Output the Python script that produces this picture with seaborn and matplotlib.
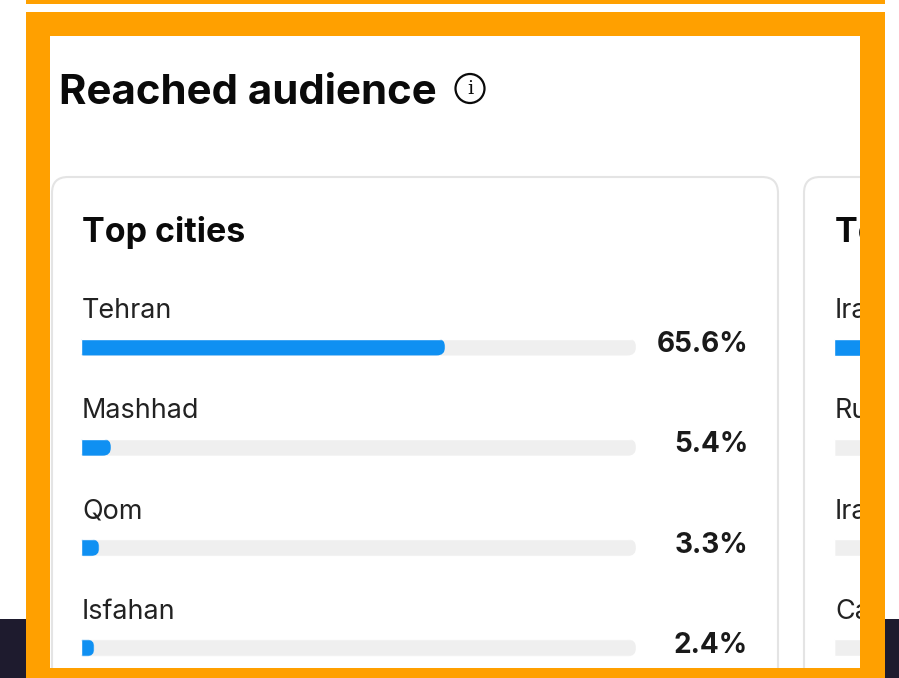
import matplotlib
matplotlib.use("Agg")
import matplotlib.pyplot as plt
import seaborn as sns
from matplotlib.patches import Rectangle, FancyBboxPatch, Circle
from matplotlib.path import Path

title = "Reached audience"
card_title = "Top cities"
card2_title = "Top countries"
cities = ["Tehran", "Mashhad", "Qom", "Isfahan"]
city_share = [65.6, 5.4, 3.3, 2.4]
countries = ["Iran", "Russia", "Iraq", "Canada"]
country_share = [90.0, 0.0, 0.0, 0.0]
track_full = [100, 100, 100, 100]

ORANGE = "#ffa000"
BLUE = "#0f90f2"
TRACK = "#efefef"
DARK = "#1e1b2e"
INK = "#0a0a0a"
W, H = 899, 678

sns.set_theme(style="white")
plt.rcParams["font.family"] = ["Inter", "DejaVu Sans"]
px = 0.72  # px to pt at dpi 100

fig = plt.figure(figsize=(W / 100, H / 100), dpi=100, facecolor="white")


def axes_px(x0, y0, x1, y1, z):
    a = fig.add_axes([x0 / W, 1 - y1 / H, (x1 - x0) / W, (y1 - y0) / H], zorder=z)
    a.patch.set_alpha(0)
    a.set_axis_off()
    return a


# page background and cards
bg = axes_px(0, 0, W, H, 0)
bg.set_xlim(0, W)
bg.set_ylim(H, 0)
bg.add_patch(Rectangle((0, 619), W, 59, color=DARK, lw=0))
bg.add_patch(Rectangle((26, 12), 859, 666, color="white", lw=0))
clip = Rectangle((50, 36), 810, 632, transform=bg.transData)
for cx0, cx1 in [(52, 778), (804, 1500)]:
    card = FancyBboxPatch((cx0, 177), cx1 - cx0, 620,
                          boxstyle="round,pad=0,rounding_size=16",
                          fc="white", ec="#e4e4e4", lw=1.5)
    bg.add_patch(card)
    card.set_clip_path(clip)

bg.text(59, 103.5, title, fontsize=41.9 * px, fontweight="bold", color=INK, va="baseline")
bg.add_patch(Circle((470, 88.5), 14.5, fc="white", ec=INK, lw=1.6))
bg.text(470, 89, "i", family="DejaVu Serif", fontsize=19 * px,
        color=INK, ha="center", va="center")
bg.text(82.5, 242, card_title, fontsize=34 * px, fontweight="bold", color=INK, va="baseline")
t = bg.text(835, 242, card2_title, fontsize=34 * px, fontweight="bold", color=INK, va="baseline")
t.set_clip_on(True)
t.set_clip_path(clip)

label_base = [318, 418, 519, 619]
value_base = [352, 452.5, 553, 653]
for name, b in zip(cities, label_base):
    bg.text(82, b, name, fontsize=27 * px, color="#222222", va="baseline")
for v, b in zip(city_share, value_base):
    bg.text(748, b, f"{v}%", fontsize=28 * px, fontweight="bold", color="#1a1a1a",
            ha="right", va="baseline")
for name, b in zip(countries, label_base):
    t = bg.text(835, b, name, fontsize=27 * px, color="#222222", va="baseline")
    t.set_clip_on(True)
    t.set_clip_path(clip)


def rounded(bar, ax, left_r, right_r):
    """Clip a seaborn bar to a pill whose corner radii are given in pixels."""
    x0, y0 = bar.get_x(), bar.get_y()
    x1, y1 = x0 + bar.get_width(), y0 + bar.get_height()
    p0 = ax.transData.transform((x0, y0))
    p1 = ax.transData.transform((x1, y1))
    xa, xb = sorted((p0[0], p1[0]))
    ya, yb = sorted((p0[1], p1[1]))
    h = yb - ya
    rr = min(right_r, h / 2, (xb - xa) * 0.6)
    lr = min(left_r, (xb - xa) * 0.3)
    verts = [(xa + lr, ya), (xb - rr, ya), (xb, ya), (xb, ya + rr), (xb, yb - rr), (xb, yb),
             (xb - rr, yb), (xa + lr, yb), (xa, yb), (xa, yb - lr), (xa, ya + lr), (xa, ya),
             (xa + lr, ya), (xa + lr, ya)]
    codes = [Path.MOVETO, Path.LINETO, Path.CURVE3, Path.CURVE3, Path.LINETO, Path.CURVE3,
             Path.CURVE3, Path.LINETO, Path.CURVE3, Path.CURVE3, Path.LINETO, Path.CURVE3,
             Path.CURVE3, Path.CLOSEPOLY]
    bar.set_clip_path(Path(verts, codes), matplotlib.transforms.IdentityTransform())


ROW = 100.3
TOP = 347 - ROW / 2
BOTTOM = 668
bar_w = 17 / ROW
ylim = (-0.5 + (BOTTOM - TOP) / ROW, -0.5)
PX_PER_UNIT = 5.55

# left card bars
ax = axes_px(81, TOP, 636, BOTTOM, 1)
sns.barplot(x=track_full, y=cities, color=TRACK, saturation=1, width=bar_w, ax=ax)
n_track = len(ax.patches)
sns.barplot(x=city_share, y=cities, color=BLUE, saturation=1, width=bar_w, ax=ax)
ax.set_xlim(0, 100)
ax.set_ylim(*ylim)
ax.set_axis_off()
for i, b in enumerate(ax.patches):
    rounded(b, ax, 0 if i < n_track else 2.5, 8.5)

# right card bars, cut by the frame
ax2 = axes_px(834, TOP, 860, BOTTOM, 1)
sns.barplot(x=track_full, y=countries, color=TRACK, saturation=1, width=bar_w, ax=ax2)
sns.barplot(x=country_share, y=countries, color=BLUE, saturation=1, width=bar_w, ax=ax2)
ax2.set_xlim(0, 26 / PX_PER_UNIT)
ax2.set_ylim(*ylim)
ax2.set_axis_off()

# orange highlight frame on top
top = axes_px(0, 0, W, H, 3)
top.set_xlim(0, W)
top.set_ylim(H, 0)
top.add_patch(Rectangle((26, 0), 859, 4, color=ORANGE, lw=0))
top.add_patch(Rectangle((26, 12), 859, 24, color=ORANGE, lw=0))
top.add_patch(Rectangle((26, 668), 859, 10, color=ORANGE, lw=0))
top.add_patch(Rectangle((26, 12), 24, 666, color=ORANGE, lw=0))
top.add_patch(Rectangle((860, 12), 25, 666, color=ORANGE, lw=0))

fig.savefig("out.png", dpi=100)
